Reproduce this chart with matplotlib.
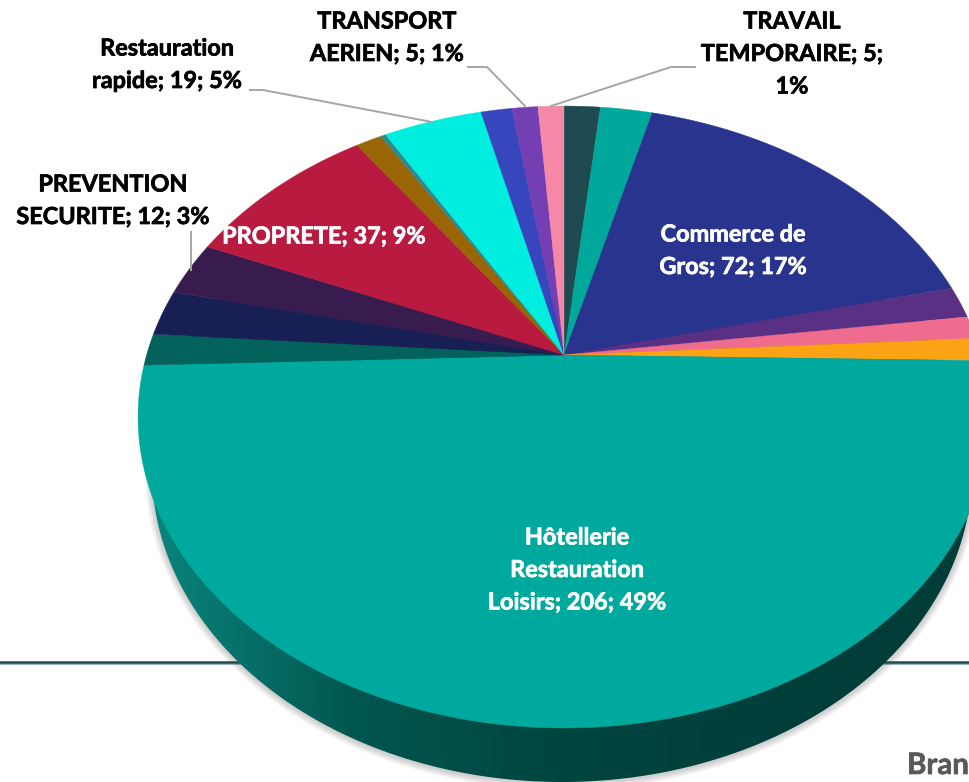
import numpy as np
import matplotlib
matplotlib.use('Agg')
import matplotlib.pyplot as plt
import matplotlib.patheffects as pe
from matplotlib.patches import Polygon
from matplotlib.colors import LinearSegmentedColormap

# parts clockwise from 12 o'clock
valeurs = [7, 10, 72, 7, 5, 5, 206, 7, 10, 12, 37, 5, 1, 19, 6, 5, 5]
couleurs = ['#1f4a52', '#00a79b', '#29348e', '#5a3085', '#f06c8e', '#fba314',
            '#00a99d', '#03635c', '#181f55', '#381c50', '#b81a40', '#9a6505',
            '#2f8a90', '#00eee0', '#3746bd', '#733fb2', '#f488a6']

# (text, x, first line y, color)
etiquettes = [
    ('TRANSPORT\nAERIEN; 5; 1%', 387, 22, 'black'),
    ('TRAVAIL\nTEMPORAIRE; 5;\n1%', 792, 22, 'black'),
    ('Restauration\nrapide; 19; 5%', 167, 49, 'black'),
    ('PREVENTION\nSECURITE; 12; 3%', 113, 185, 'black'),
    ('PROPRETE; 37; 9%', 324, 237, 'white'),
    ('Commerce de\nGros; 72; 17%', 733, 235, 'white'),
    ('Hôtellerie\nRestauration\nLoisirs; 206; 49%', 577, 538, 'white'),
]

cx, cy = 564, 355
rx0, ry0, k = 417.4, 298.6, 0.1994


def projeter(theta):
    # the disc seen in perspective, back edge further away
    u, v = np.sin(theta), np.cos(theta)
    w = 1 + k * v
    return cx + rx0 * u / w, cy - ry0 * v / w


fig = plt.figure(figsize=(9.69, 7.82), dpi=100)
ax = fig.add_axes([0, 0, 1, 1])
ax.set_xlim(0, 969)
ax.set_ylim(782, 0)
ax.axis('off')

# rule behind the pie
ax.plot([0, 969], [663.5, 663.5], color='#9fb5b8', lw=1.4, zorder=1)
ax.plot([0, 969], [661.5, 661.5], color='#1f4e52', lw=1.8, zorder=1)

# lower edge of the 3D side
t = np.linspace(0, 2 * np.pi, 400)
bas_x = 562 + 410 * np.cos(t)
bas_y = 471 + 311 * np.sin(t)

# soft shadow
for i in range(7, 0, -1):
    ombre = Polygon(np.c_[562 + (410 + i) * np.cos(t), 472 + (311 + i) * np.sin(t)],
                    fc='#555555', ec='none', alpha=0.045, zorder=2)
    ax.add_patch(ombre)

cmap = LinearSegmentedColormap.from_list('cote', ['#0a857c', '#01564f', '#00453f', '#003f3b', '#003c38'])
degrade = np.linspace(0, 1, 256).reshape(1, -1)
im = ax.imshow(degrade, cmap=cmap, extent=[150, 975, 790, 300], aspect='auto', zorder=3)
bord = Polygon(np.c_[bas_x, bas_y], fc='none', ec='none', transform=ax.transData)
ax.add_patch(bord)
im.set_clip_path(bord)
ax.set_xlim(0, 969)
ax.set_ylim(782, 0)

# top face
bornes = np.cumsum([0] + valeurs) / sum(valeurs) * 2 * np.pi
for a, b, c in zip(bornes[:-1], bornes[1:], couleurs):
    th = np.linspace(a, b, max(int((b - a) * 120), 3))
    x, y = projeter(th)
    ax.add_patch(Polygon(np.c_[np.r_[cx, x], np.r_[cy, y]], fc=c, ec=c, lw=0.3, zorder=4))

# leader lines
gris = '#a6a6a6'
ax.plot([250, 263, 432], [90, 90, 122], color=gris, lw=1.4, zorder=5)
ax.plot([468, 487, 525], [67, 67, 106], color=gris, lw=1.4, zorder=5)
ax.plot([551, 671, 695], [106, 67, 67], color=gris, lw=1.4, zorder=5)
ax.plot([191, 191], [232, 270], color=gris, lw=1.4, zorder=5)

for txt, x, y, c in etiquettes:
    for i, ligne in enumerate(txt.split('\n')):
        ax.text(x, y + i * 32.5, ligne, color=c, ha='center', va='center',
                fontsize=16.9, fontweight='bold', family='Lato', zorder=6,
                path_effects=[pe.withStroke(linewidth=0.5, foreground=c)])

ax.text(907, 774, 'Bran', color='#595959', ha='left', va='baseline',
        fontsize=21.2, fontweight='bold', family='Lato', zorder=6,
        path_effects=[pe.withStroke(linewidth=0.5, foreground='#595959')])

fig.savefig('out.png', dpi=100)
